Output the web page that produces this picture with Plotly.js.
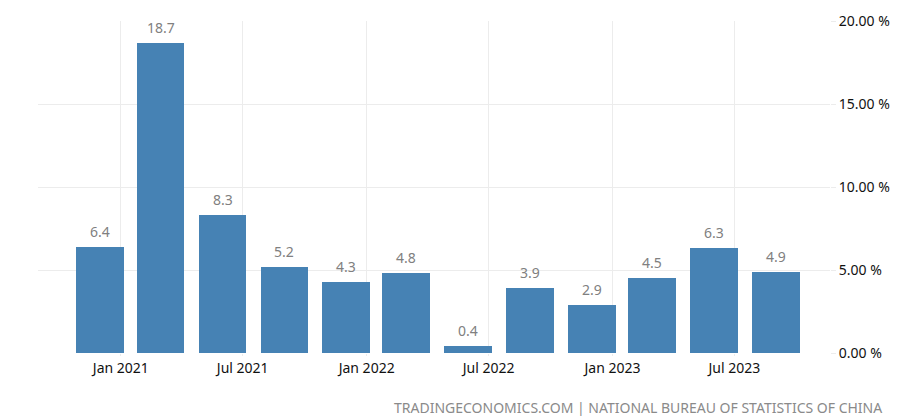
<!DOCTYPE html>
<html>
<head>
<meta charset="utf-8">
<script src="https://cdn.plot.ly/plotly-3.0.1.min.js"></script>
<style>html,body{margin:0;padding:0;background:#fff;}#chart{width:900px;height:416px;}</style>
</head>
<body>
<div id="chart"></div>
<script>
const periods = ['2020-12-01','2021-03-01','2021-06-01','2021-09-01','2021-12-01','2022-03-01','2022-06-01','2022-09-01','2022-12-01','2023-03-01','2023-06-01','2023-09-01'];
const growth = [6.4, 18.7, 8.3, 5.2, 4.3, 4.8, 0.4, 3.9, 2.9, 4.5, 6.3, 4.9];
const tickDates = ['2021-01-01','2021-07-01','2022-01-01','2022-07-01','2023-01-01','2023-07-01'];
const tickLabels = ['Jan 2021','Jul 2021','Jan 2022','Jul 2022','Jan 2023','Jul 2023'];
const yTicks = [0, 5, 10, 15, 20];
const yTickLabels = ['0.00 %','5.00 %','10.00 %','15.00 %','20.00 %'];
const sourceText = 'TRADINGECONOMICS.COM | NATIONAL BUREAU OF STATISTICS OF CHINA';

const DAY = 86400000;
const FONT = 'Noto Sans, Open Sans, sans-serif';

const trace = {
  type: 'bar',
  x: periods,
  y: growth,
  width: periods.map(() => 71 * DAY),
  marker: {color: '#4682b4'},
  hoverinfo: 'x+y'
};

const annotations = periods.map((d, i) => ({
  x: d, y: growth[i], xref: 'x', yref: 'y',
  text: growth[i].toFixed(1),
  showarrow: false, yanchor: 'bottom', yshift: 4,
  font: {family: FONT, size: 14, color: '#808080'}
}));
annotations.push({
  xref: 'paper', yref: 'paper', x: 1.0, y: 0, xanchor: 'right', yanchor: 'middle',
  xshift: 54, yshift: -54,
  text: sourceText, showarrow: false,
  font: {family: FONT, size: 14, color: '#8a8a8a'}
});

const layout = {
  width: 900, height: 416,
  margin: {l: 38, r: 70, t: 21, b: 63},
  paper_bgcolor: '#ffffff', plot_bgcolor: '#ffffff',
  showlegend: false,
  xaxis: {
    type: 'date',
    range: ['2020-08-31', '2023-11-20'],
    tickvals: tickDates, ticktext: tickLabels,
    showgrid: true, gridcolor: '#ececec', gridwidth: 1,
    ticks: 'outside', ticklen: 2, tickcolor: '#ececec',
    tickfont: {family: FONT, size: 14, color: '#111'},
    zeroline: false, showline: false, fixedrange: true
  },
  yaxis: {
    side: 'right',
    range: [0, 20],
    tickvals: yTicks, ticktext: yTickLabels,
    showgrid: true, gridcolor: '#ececec', gridwidth: 1,
    ticks: 'outside', ticklen: 5, tickcolor: '#ececec',
    tickfont: {family: FONT, size: 14, color: '#111'},
    zeroline: false, showline: false, fixedrange: true
  },
  bargap: 0,
  annotations: annotations
};

Plotly.newPlot('chart', [trace], layout, {displayModeBar: false, staticPlot: true});
</script>
</body>
</html>
